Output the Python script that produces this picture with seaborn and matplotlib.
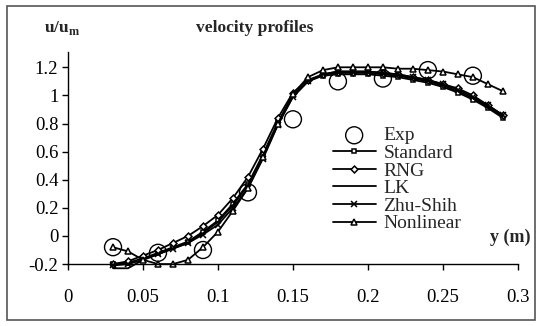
"""Velocity profiles: experiment vs turbulence models."""

import matplotlib

matplotlib.use("Agg")
import matplotlib.pyplot as plt
import numpy as np
import pandas as pd
import seaborn as sns
from matplotlib.patches import Rectangle
from matplotlib.ticker import FuncFormatter

# positions across the section (m)
y_model = [0.03, 0.04, 0.05, 0.06, 0.07, 0.08, 0.09, 0.10, 0.11, 0.12, 0.13, 0.14, 0.15, 0.16,
           0.17, 0.18, 0.19, 0.20, 0.21, 0.22, 0.23, 0.24, 0.25, 0.26, 0.27, 0.28, 0.29]

standard = [-0.20, -0.19, -0.16, -0.12, -0.08, -0.04, 0.03, 0.11, 0.23, 0.37, 0.58, 0.81, 1.00, 1.10,
            1.14, 1.15, 1.15, 1.15, 1.14, 1.13, 1.11, 1.09, 1.06, 1.02, 0.97, 0.91, 0.84]
rng = [-0.20, -0.18, -0.14, -0.10, -0.05, 0.00, 0.07, 0.15, 0.27, 0.42, 0.62, 0.84, 1.02, 1.11,
       1.15, 1.17, 1.17, 1.17, 1.16, 1.15, 1.13, 1.11, 1.08, 1.05, 1.00, 0.93, 0.86]
lk = [-0.23, -0.23, -0.17, -0.13, -0.09, -0.05, 0.02, 0.10, 0.22, 0.36, 0.57, 0.80, 0.99, 1.10,
      1.15, 1.16, 1.16, 1.16, 1.15, 1.14, 1.12, 1.10, 1.07, 1.03, 0.98, 0.92, 0.85]
zhu_shih = [-0.21, -0.20, -0.17, -0.13, -0.09, -0.05, 0.01, 0.08, 0.20, 0.34, 0.55, 0.79, 0.99, 1.10,
            1.15, 1.17, 1.17, 1.17, 1.16, 1.15, 1.13, 1.11, 1.08, 1.04, 0.99, 0.93, 0.86]
nonlinear = [-0.08, -0.11, -0.17, -0.20, -0.20, -0.17, -0.08, 0.03, 0.18, 0.34, 0.56, 0.80, 1.01, 1.13,
             1.18, 1.20, 1.20, 1.20, 1.20, 1.19, 1.19, 1.18, 1.17, 1.15, 1.13, 1.08, 1.03]

y_exp = [0.03, 0.06, 0.09, 0.12, 0.15, 0.18, 0.21, 0.24, 0.27]
u_exp = [-0.08, -0.12, -0.10, 0.31, 0.83, 1.10, 1.12, 1.18, 1.14]

x_ticks = [0, 0.05, 0.1, 0.15, 0.2, 0.25, 0.3]
y_ticks = [-0.2, 0, 0.2, 0.4, 0.6, 0.8, 1.0, 1.2]

sns.set_style("ticks")
plt.rcParams["font.family"] = ["Liberation Serif", "DejaVu Serif"]

fig = plt.figure(figsize=(5.4, 3.26), dpi=100)
ax = fig.add_axes([0.126, 0.19, 0.833, 0.651])

models = [
    ("Standard", standard, "s", 3.5),
    ("RNG", rng, "D", 3.5),
    ("LK", lk, None, 0),
    ("Zhu-Shih", zhu_shih, "x", 4),
    ("Nonlinear", nonlinear, "^", 4.5),
]

sns.scatterplot(x=y_exp, y=u_exp, ax=ax, marker="o", s=150, facecolor="none",
                edgecolor="black", linewidth=1.0, label="Exp", zorder=5, clip_on=False)

for name, vals, mk, ms in models:
    df = pd.DataFrame({"y": y_model, "u": vals})
    sns.lineplot(data=df, x="y", y="u", ax=ax, color="black", linewidth=1.3,
                 marker=mk, markersize=ms, markerfacecolor="white", markeredgecolor="black",
                 markeredgewidth=1.1, label=name, clip_on=False)

ax.set_xlim(0, 0.3)
ax.set_ylim(-0.2, 1.31)
ax.set_xticks(x_ticks)
ax.set_yticks(y_ticks)
fmt = FuncFormatter(lambda v, p: f"{v:g}" if abs(v) > 1e-9 else "0")
ax.xaxis.set_major_formatter(fmt)
ax.yaxis.set_major_formatter(fmt)
ax.tick_params(direction="out", length=4, width=1, labelsize=13.5, colors="black", pad=3)
ax.tick_params(axis="x", pad=14)
sns.despine(ax=ax)
for s in ["left", "bottom"]:
    ax.spines[s].set_linewidth(1.0)
    ax.spines[s].set_color("black")
ax.set_xlabel("")
ax.set_ylabel("")

leg = ax.legend(loc="upper left", bbox_to_anchor=(325 / 540, 1 - 119 / 326),
                bbox_transform=fig.transFigure, frameon=False, fontsize=14,
                handlelength=2.2, handletextpad=0.4, labelspacing=0.0, borderaxespad=0)

fig.text(62 / 540, 1 - 28 / 326, "u/u$_{\\mathregular{m}}$", fontsize=12.5, fontweight="bold",
         ha="center", va="center")
fig.text(255 / 540, 1 - 28 / 326, "velocity profiles", fontsize=12.5, fontweight="bold",
         ha="center", va="center")
fig.text(510 / 540, 1 - 237 / 326, "y (m)", fontsize=13, fontweight="bold",
         ha="center", va="center")

fig.patches.append(Rectangle((7 / 540, 1 - 320 / 326), 528 / 540, 314 / 326,
                             transform=fig.transFigure, fill=False, edgecolor="#555555",
                             linewidth=1.2))

plt.savefig("out.png", dpi=100)
plt.close()
